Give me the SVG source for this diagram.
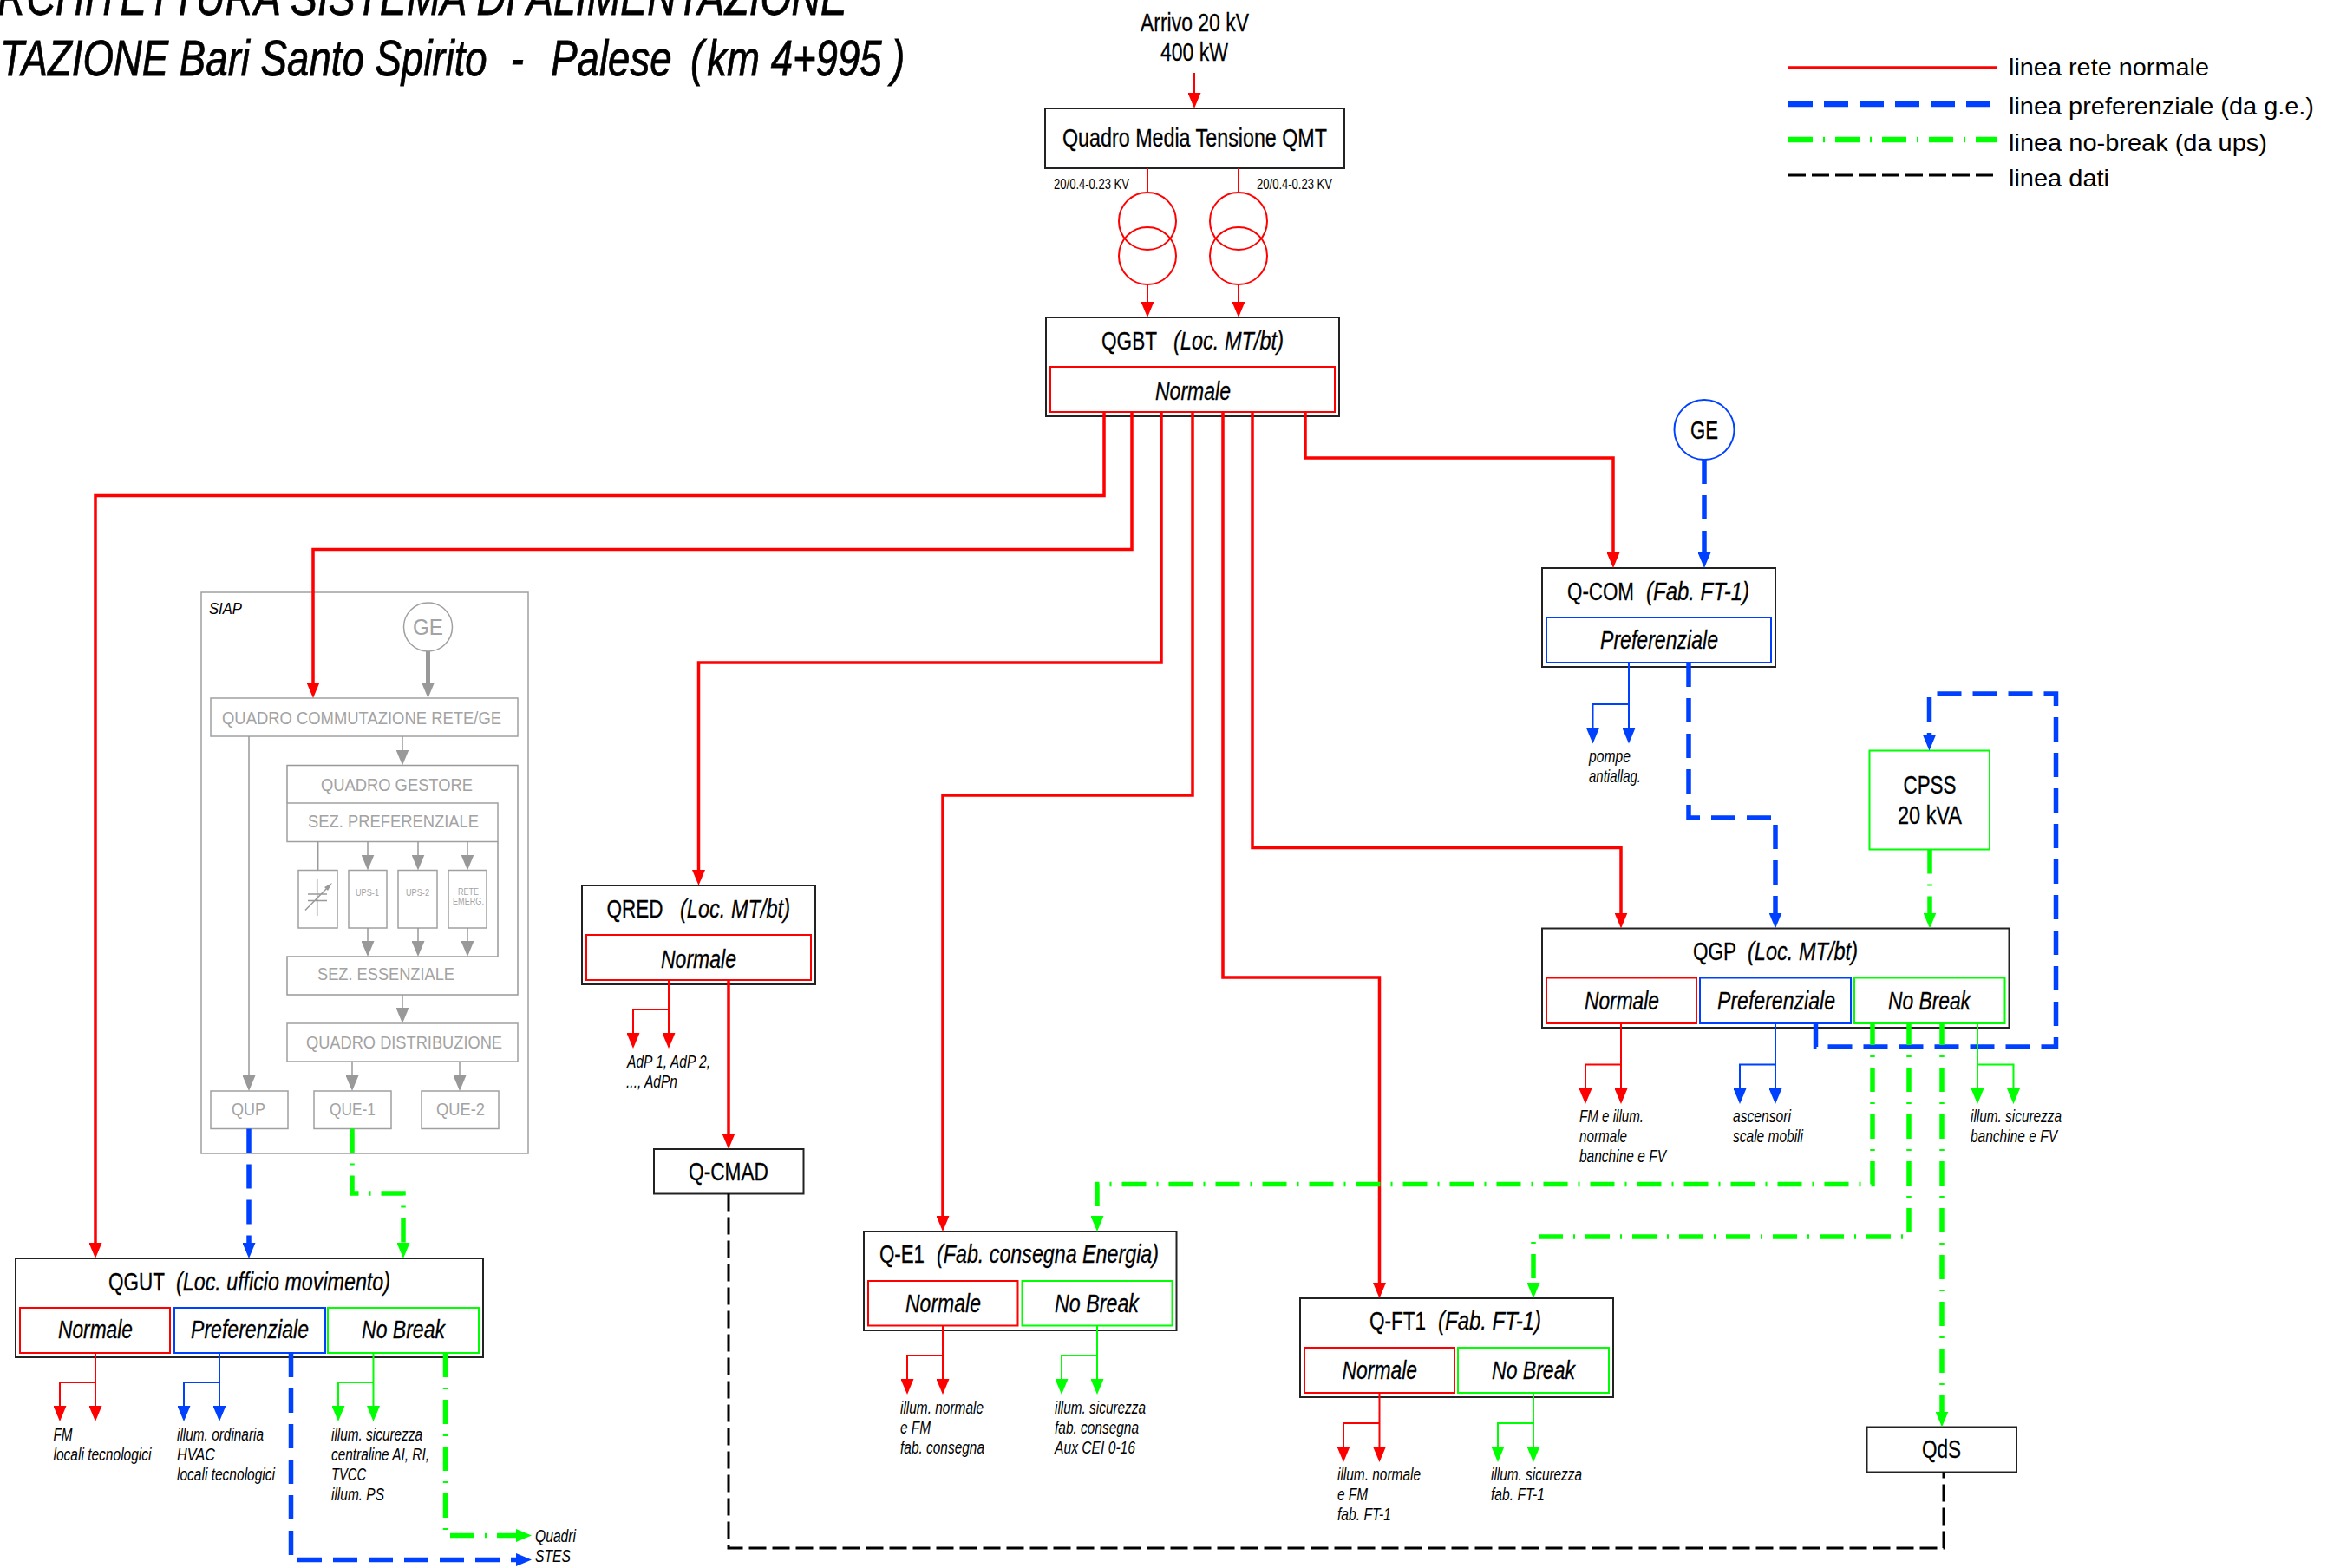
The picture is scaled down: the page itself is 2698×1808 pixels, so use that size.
<svg xmlns="http://www.w3.org/2000/svg" width="2698" height="1808" viewBox="0 0 2698 1808">
<style>
text{font-family:"Liberation Sans",Arial,sans-serif;fill:#000;white-space:pre}
.i{font-style:italic}
.h{font-size:30px;stroke:#000;stroke-width:.3}
.n{font-size:20px;font-style:italic}
.leg{font-size:28px}
.tt{font-size:57px;font-style:italic;stroke:#000;stroke-width:.8}
.g{fill:#a3a3a3;font-size:20.5px}
.s{font-size:11px}
.box{fill:#fff;stroke:#222;stroke-width:2}
.sr{fill:#fff;stroke:#f00;stroke-width:2}
.sb{fill:#fff;stroke:#0040ff;stroke-width:2}
.sg{fill:#fff;stroke:#0f0;stroke-width:2}
.gb{fill:#fff;stroke:#a0a0a0;stroke-width:1.5}
.gl{fill:none;stroke:#999;stroke-width:1.5}
path{fill:none}
.r{stroke:#f00;stroke-width:3.5}
.r1{stroke:#f00;stroke-width:2}
.b1{stroke:#0040ff;stroke-width:2}
.g1{stroke:#0f0;stroke-width:2}
.bd{stroke:#0040ff;stroke-width:5.5;stroke-dasharray:28 13}
.gd{stroke:#0f0;stroke-width:5.5;stroke-dasharray:28 12 2 12}
.kd{stroke:#000;stroke-width:3;stroke-dasharray:20 7}
.mr{marker-end:url(#ar)}
.mb{marker-end:url(#ab)}
.mg{marker-end:url(#ag)}
.my{marker-end:url(#ay)}
</style>
<defs>
<marker id="ar" markerUnits="userSpaceOnUse" markerWidth="18" markerHeight="15" viewBox="0 0 18 15" refX="7" refY="7.5" orient="auto"><polygon points="0,0 18,7.5 0,15" fill="#f00"/></marker>
<marker id="ab" markerUnits="userSpaceOnUse" markerWidth="18" markerHeight="15" viewBox="0 0 18 15" refX="7" refY="7.5" orient="auto"><polygon points="0,0 18,7.5 0,15" fill="#0040ff"/></marker>
<marker id="ag" markerUnits="userSpaceOnUse" markerWidth="18" markerHeight="15" viewBox="0 0 18 15" refX="7" refY="7.5" orient="auto"><polygon points="0,0 18,7.5 0,15" fill="#0f0"/></marker>
<marker id="ay" markerUnits="userSpaceOnUse" markerWidth="18" markerHeight="15" viewBox="0 0 18 15" refX="7" refY="7.5" orient="auto"><polygon points="0,0 18,7.5 0,15" fill="#999"/></marker>
</defs>

<g id="title">
<text class="tt" x="-3" y="17" textLength="980" lengthAdjust="spacingAndGlyphs">RCHITETTURA SISTEMA DI ALIMENTAZIONE</text>
<text class="tt" transform="translate(0,87) scale(.8,1)"><tspan x="0">TAZIONE Bari Santo Spirito </tspan><tspan x="736">- </tspan><tspan x="794">Palese </tspan><tspan x="995">( </tspan><tspan x="1019">km 4+995 </tspan><tspan x="1285">)</tspan></text>
</g>

<g id="legend">
<path class="r" d="M2062 78H2302"/>
<path class="bd" style="stroke-width:6.5" d="M2062 120H2302"/>
<path class="gd" style="stroke-width:6.5" d="M2062 161H2302"/>
<path class="kd" d="M2062 202H2302"/>
<text class="leg" x="2316" y="86.5" textLength="231" lengthAdjust="spacingAndGlyphs">linea rete normale</text>
<text class="leg" x="2316" y="132" textLength="352" lengthAdjust="spacingAndGlyphs">linea preferenziale (da g.e.)</text>
<text class="leg" x="2316" y="174" textLength="298" lengthAdjust="spacingAndGlyphs">linea no-break (da ups)</text>
<text class="leg" x="2316" y="215" textLength="116" lengthAdjust="spacingAndGlyphs">linea dati</text>
</g>

<g id="arrivo">
<text class="h" x="1315" y="36" textLength="125" lengthAdjust="spacingAndGlyphs">Arrivo 20 kV</text>
<text class="h" x="1338" y="70" textLength="78" lengthAdjust="spacingAndGlyphs">400 kW</text>
</g>

<g id="QMT">
<rect class="box" x="1205" y="125" width="345" height="69"/>
<text class="h" x="1225" y="169" textLength="305" lengthAdjust="spacingAndGlyphs">Quadro Media Tensione QMT</text>
</g>

<g id="trasformatori" fill="none" stroke="#f00" stroke-width="2">
<circle cx="1323" cy="255" r="33"/><circle cx="1323" cy="295" r="33"/>
<circle cx="1428" cy="255" r="33"/><circle cx="1428" cy="295" r="33"/>
<text font-size="16" x="1215" y="218" textLength="87" lengthAdjust="spacingAndGlyphs" stroke="none">20/0.4-0.23 KV</text>
<text font-size="16" x="1449" y="218" textLength="87" lengthAdjust="spacingAndGlyphs" stroke="none">20/0.4-0.23 KV</text>
</g>

<g id="QGBT">
<rect class="box" x="1206" y="366" width="338" height="114"/>
<rect class="sr" x="1211" y="423" width="328" height="52"/>
<text class="h" x="1270" y="403" textLength="64" lengthAdjust="spacingAndGlyphs">QGBT</text>
<text class="h i" x="1353" y="403" textLength="127" lengthAdjust="spacingAndGlyphs">(Loc. MT/bt)</text>
<text class="h i" x="1332" y="461" textLength="87" lengthAdjust="spacingAndGlyphs">Normale</text>
</g>

<g id="GE-blu">
<circle cx="1965" cy="495.5" r="34.5" fill="#fff" stroke="#0040ff" stroke-width="2"/>
<text class="h" x="1949" y="506" textLength="32" lengthAdjust="spacingAndGlyphs">GE</text>
</g>

<g id="Q-COM">
<rect class="box" x="1778" y="655" width="269" height="114"/>
<rect class="sb" x="1783" y="712" width="259" height="52"/>
<text class="h" x="1807" y="692" textLength="77" lengthAdjust="spacingAndGlyphs">Q-COM</text>
<text class="h i" x="1898" y="692" textLength="119" lengthAdjust="spacingAndGlyphs">(Fab. FT-1)</text>
<text class="h i" x="1845" y="747.5" textLength="136" lengthAdjust="spacingAndGlyphs">Preferenziale</text>
</g>

<g id="CPSS">
<rect class="sg" x="2155.5" y="865.5" width="138.5" height="114"/>
<text class="h" x="2194.5" y="915" textLength="61" lengthAdjust="spacingAndGlyphs">CPSS</text>
<text class="h" x="2188" y="950" textLength="74" lengthAdjust="spacingAndGlyphs">20 kVA</text>
</g>

<g id="QGP">
<rect class="box" x="1778" y="1070.5" width="538.5" height="114.5"/>
<rect class="sr" x="1783" y="1127.5" width="173" height="52.5"/>
<rect class="sb" x="1960" y="1127.5" width="174" height="52.5"/>
<rect class="sg" x="2138" y="1127.5" width="173.5" height="52.5"/>
<text class="h" x="1952" y="1107" textLength="50" lengthAdjust="spacingAndGlyphs">QGP</text>
<text class="h i" x="2015" y="1107" textLength="127" lengthAdjust="spacingAndGlyphs">(Loc. MT/bt)</text>
<text class="h i" x="1827" y="1164" textLength="86" lengthAdjust="spacingAndGlyphs">Normale</text>
<text class="h i" x="1980" y="1164" textLength="136" lengthAdjust="spacingAndGlyphs">Preferenziale</text>
<text class="h i" x="2177" y="1164" textLength="95" lengthAdjust="spacingAndGlyphs">No Break</text>
</g>

<g id="QRED">
<rect class="box" x="671" y="1021" width="269" height="114"/>
<rect class="sr" x="676" y="1078" width="259" height="52"/>
<text class="h" x="699.5" y="1057.5" textLength="65" lengthAdjust="spacingAndGlyphs">QRED</text>
<text class="h i" x="784" y="1057.5" textLength="127" lengthAdjust="spacingAndGlyphs">(Loc. MT/bt)</text>
<text class="h i" x="762" y="1116" textLength="87" lengthAdjust="spacingAndGlyphs">Normale</text>
</g>

<g id="Q-CMAD">
<rect class="box" x="754" y="1325" width="172.5" height="51.5"/>
<text class="h" x="794" y="1361" textLength="92" lengthAdjust="spacingAndGlyphs">Q-CMAD</text>
</g>

<g id="Q-E1">
<rect class="box" x="996" y="1420" width="360.5" height="114"/>
<rect class="sr" x="1001" y="1477" width="172.5" height="51.5"/>
<rect class="sg" x="1178.5" y="1477" width="173" height="51.5"/>
<text class="h" x="1014" y="1455.5" textLength="52" lengthAdjust="spacingAndGlyphs">Q-E1</text>
<text class="h i" x="1080" y="1455.5" textLength="256" lengthAdjust="spacingAndGlyphs">(Fab. consegna Energia)</text>
<text class="h i" x="1044" y="1513" textLength="87" lengthAdjust="spacingAndGlyphs">Normale</text>
<text class="h i" x="1216" y="1513" textLength="97" lengthAdjust="spacingAndGlyphs">No Break</text>
</g>

<g id="Q-FT1">
<rect class="box" x="1499" y="1497" width="361" height="114"/>
<rect class="sr" x="1504" y="1554" width="173" height="52"/>
<rect class="sg" x="1681" y="1554" width="174" height="52"/>
<text class="h" x="1579" y="1533" textLength="65" lengthAdjust="spacingAndGlyphs">Q-FT1</text>
<text class="h i" x="1658" y="1533" textLength="119" lengthAdjust="spacingAndGlyphs">(Fab. FT-1)</text>
<text class="h i" x="1547.5" y="1590" textLength="86.5" lengthAdjust="spacingAndGlyphs">Normale</text>
<text class="h i" x="1720" y="1590" textLength="96" lengthAdjust="spacingAndGlyphs">No Break</text>
</g>

<g id="QdS">
<rect class="box" x="2152.5" y="1645.5" width="172.5" height="52"/>
<text class="h" x="2216" y="1681" textLength="45" lengthAdjust="spacingAndGlyphs">QdS</text>
</g>

<g id="QGUT">
<rect class="box" x="18" y="1451" width="539" height="114"/>
<rect class="sr" x="23" y="1508" width="173" height="52"/>
<rect class="sb" x="201" y="1508" width="174" height="52"/>
<rect class="sg" x="378" y="1508" width="174" height="52"/>
<text class="h" x="125" y="1488" textLength="65" lengthAdjust="spacingAndGlyphs">QGUT</text>
<text class="h i" x="203" y="1488" textLength="247" lengthAdjust="spacingAndGlyphs">(Loc. ufficio movimento)</text>
<text class="h i" x="67" y="1543" textLength="86" lengthAdjust="spacingAndGlyphs">Normale</text>
<text class="h i" x="220" y="1543" textLength="136" lengthAdjust="spacingAndGlyphs">Preferenziale</text>
<text class="h i" x="417" y="1543" textLength="96" lengthAdjust="spacingAndGlyphs">No Break</text>
</g>

<g id="SIAP">
<rect class="gb" x="232" y="683" width="377" height="647" style="fill:none"/>
<text class="i" font-size="19" x="241" y="708" textLength="38" lengthAdjust="spacingAndGlyphs">SIAP</text>
<ellipse class="gb" cx="493.5" cy="723" rx="28" ry="28"/>
<text class="g" style="font-size:26px" x="476" y="732" textLength="35" lengthAdjust="spacingAndGlyphs">GE</text>
<rect class="gb" x="243" y="805" width="354" height="44"/>
<text class="g" x="256" y="835" textLength="322" lengthAdjust="spacingAndGlyphs">QUADRO COMMUTAZIONE RETE/GE</text>
<path class="gl" d="M331 926V882.5H597V1147H331V1103H574V970.5"/>
<rect class="gb" x="331" y="926" width="243" height="44.5"/>
<text class="g" x="370" y="911.5" textLength="175" lengthAdjust="spacingAndGlyphs">QUADRO GESTORE</text>
<text class="g" x="355" y="953.5" textLength="197" lengthAdjust="spacingAndGlyphs">SEZ. PREFERENZIALE</text>
<text class="g" x="366" y="1130" textLength="158" lengthAdjust="spacingAndGlyphs">SEZ. ESSENZIALE</text>
<rect class="gb" x="344" y="1003.5" width="45" height="66.5"/>
<rect class="gb" x="402" y="1003.5" width="44" height="66.5"/>
<rect class="gb" x="459" y="1003.5" width="45" height="66.5"/>
<rect class="gb" x="517" y="1003.5" width="44" height="66.5"/>
<path class="gl" d="M365.7 1013.5V1056M355 1031H377M355 1038.5H377M352 1049.5L380 1021"/>
<polygon points="383,1018 374,1023 378,1027" fill="#999"/>
<text class="g s" x="410" y="1032.5" textLength="27" lengthAdjust="spacingAndGlyphs">UPS-1</text>
<text class="g s" x="468" y="1032.5" textLength="27" lengthAdjust="spacingAndGlyphs">UPS-2</text>
<text class="g s" x="528" y="1032" textLength="24" lengthAdjust="spacingAndGlyphs">RETE</text>
<text class="g s" x="522" y="1043" textLength="36" lengthAdjust="spacingAndGlyphs">EMERG.</text>
<rect class="gb" x="331" y="1180" width="266" height="44"/>
<text class="g" x="353" y="1209" textLength="226" lengthAdjust="spacingAndGlyphs">QUADRO DISTRIBUZIONE</text>
<rect class="gb" x="243" y="1258" width="89" height="43.5"/>
<text class="g" x="267" y="1286" textLength="39" lengthAdjust="spacingAndGlyphs">QUP</text>
<rect class="gb" x="362" y="1258" width="89" height="43.5"/>
<text class="g" x="380" y="1286" textLength="53" lengthAdjust="spacingAndGlyphs">QUE-1</text>
<rect class="gb" x="486" y="1258" width="89" height="43.5"/>
<text class="g" x="503" y="1286" textLength="56" lengthAdjust="spacingAndGlyphs">QUE-2</text>
</g>

<g id="connectors">
<path class="my" style="stroke:#999;stroke-width:5" d="M493.5 751V794"/>
<path class="gl" d="M366.7 970.5V1003.5"/>
<path class="gl my" d="M287 849V1247"/>
<path class="gl my" d="M464 849V871.5"/><path class="gl my" d="M424 970.5V992.5"/><path class="gl my" d="M482 970.5V992.5"/><path class="gl my" d="M539 970.5V992.5"/><path class="gl my" d="M424 1070V1092"/><path class="gl my" d="M482 1070V1092"/><path class="gl my" d="M539 1070V1092"/><path class="gl my" d="M464 1147V1169"/><path class="gl my" d="M406 1224V1247"/><path class="gl my" d="M530 1224V1247"/>

<path class="kd" d="M840 1376.5V1785H2241V1697.5"/>

<path class="r1 mr" d="M1377 84V114"/>
<path class="r1" d="M1323 194V222M1428 194V222"/>
<path class="r1 mr" d="M1323 328V355"/><path class="r1 mr" d="M1428 328V355"/>
<path class="r mr" d="M1273 475V571.5H110V1440"/>
<path class="r mr" d="M1305 475V633.5H361V794"/>
<path class="r mr" d="M1339 475V764H805.5V1010"/>
<path class="r mr" d="M1375 475V917H1087V1409"/>
<path class="r mr" d="M1410 475V1127H1590.5V1486"/>
<path class="r mr" d="M1444 475V977.5H1869V1059.5"/>
<path class="r mr" d="M1505 475V528H1860V644"/>
<path class="r mr" d="M840 1130V1314"/>

<path class="bd mb" d="M1965 530V644"/>
<path class="bd mb" d="M1947 764V943H2047V1059.5"/>
<path class="bd mb" d="M2093.5 1180V1207H2370.5V800H2224.5V854.5"/>
<path class="bd mb" d="M287 1301.5V1440"/>
<path class="bd mb" d="M335.5 1560V1798.5H602"/>

<path class="gd mg" d="M406 1301.5V1376H465V1440"/>
<path class="gd mg" d="M2225 979.5V1059.5"/>
<path class="gd mg" stroke-dashoffset="3" d="M2159 1180V1365.5H1265V1409"/>
<path class="gd mg" stroke-dashoffset="3" d="M2201 1180V1426H1768V1486"/>
<path class="gd mg" stroke-dashoffset="3" d="M2239 1180V1634.5"/>
<path class="gd mg" d="M513.5 1560V1770.5H602"/>

<path class="r1 mr" d="M110 1560V1628"/><path class="r1 mr" d="M110 1594H69V1628"/>
<path class="b1 mb" d="M253 1560V1628"/><path class="b1 mb" d="M253 1594H212V1628"/>
<path class="g1 mg" d="M430.5 1560V1628"/><path class="g1 mg" d="M430.5 1594H390V1628"/>
<path class="r1 mr" d="M771 1130V1198"/><path class="r1 mr" d="M771 1164H730V1198"/>
<path class="r1 mr" d="M1087 1528.5V1597"/><path class="r1 mr" d="M1087 1563H1046V1597"/>
<path class="g1 mg" d="M1265 1528.5V1597"/><path class="g1 mg" d="M1265 1563H1224V1597"/>
<path class="r1 mr" d="M1590.5 1606V1675"/><path class="r1 mr" d="M1590.5 1641H1549V1675"/>
<path class="g1 mg" d="M1768 1606V1675"/><path class="g1 mg" d="M1768 1641H1727V1675"/>
<path class="b1 mb" d="M1878 764V846.5"/><path class="b1 mb" d="M1878 812H1836.5V846.5"/>
<path class="r1 mr" d="M1869 1180V1262"/><path class="r1 mr" d="M1869 1227.5H1828V1262"/>
<path class="b1 mb" d="M2047 1180V1262"/><path class="b1 mb" d="M2047 1227.5H2006V1262"/>
<path class="g1 mg" d="M2280 1180V1262"/><path class="g1 mg" d="M2280 1227.5H2321.5V1262"/>
</g>

<g id="etichette">
<text class="n" x="61.5" y="1661" textLength="22" lengthAdjust="spacingAndGlyphs">FM</text>
<text class="n" x="61.5" y="1684" textLength="113" lengthAdjust="spacingAndGlyphs">locali tecnologici</text>
<text class="n" x="204" y="1661" textLength="100" lengthAdjust="spacingAndGlyphs">illum. ordinaria</text>
<text class="n" x="204" y="1684" textLength="44" lengthAdjust="spacingAndGlyphs">HVAC</text>
<text class="n" x="204" y="1707" textLength="113" lengthAdjust="spacingAndGlyphs">locali tecnologici</text>
<text class="n" x="382" y="1661" textLength="105" lengthAdjust="spacingAndGlyphs">illum. sicurezza</text>
<text class="n" x="382" y="1684" textLength="113" lengthAdjust="spacingAndGlyphs">centraline AI, RI,</text>
<text class="n" x="382" y="1707" textLength="40" lengthAdjust="spacingAndGlyphs">TVCC</text>
<text class="n" x="382" y="1730" textLength="61" lengthAdjust="spacingAndGlyphs">illum. PS</text>
<text class="n" x="617" y="1778" textLength="47" lengthAdjust="spacingAndGlyphs">Quadri</text>
<text class="n" x="617" y="1801" textLength="41" lengthAdjust="spacingAndGlyphs">STES</text>
<text class="n" x="723" y="1231" textLength="96" lengthAdjust="spacingAndGlyphs">AdP 1, AdP 2,</text>
<text class="n" x="722" y="1254" textLength="59" lengthAdjust="spacingAndGlyphs">..., AdPn</text>
<text class="n" x="1038" y="1630" textLength="96" lengthAdjust="spacingAndGlyphs">illum. normale</text>
<text class="n" x="1038" y="1653" textLength="35" lengthAdjust="spacingAndGlyphs">e FM</text>
<text class="n" x="1038" y="1676" textLength="97" lengthAdjust="spacingAndGlyphs">fab. consegna</text>
<text class="n" x="1216" y="1630" textLength="105" lengthAdjust="spacingAndGlyphs">illum. sicurezza</text>
<text class="n" x="1216" y="1653" textLength="97" lengthAdjust="spacingAndGlyphs">fab. consegna</text>
<text class="n" x="1216" y="1676" textLength="93" lengthAdjust="spacingAndGlyphs">Aux CEI 0-16</text>
<text class="n" x="1542" y="1707" textLength="96" lengthAdjust="spacingAndGlyphs">illum. normale</text>
<text class="n" x="1542" y="1730" textLength="35" lengthAdjust="spacingAndGlyphs">e FM</text>
<text class="n" x="1542" y="1753" textLength="62" lengthAdjust="spacingAndGlyphs">fab. FT-1</text>
<text class="n" x="1719" y="1707" textLength="105" lengthAdjust="spacingAndGlyphs">illum. sicurezza</text>
<text class="n" x="1719" y="1730" textLength="62" lengthAdjust="spacingAndGlyphs">fab. FT-1</text>
<text class="n" x="1832" y="879" textLength="48" lengthAdjust="spacingAndGlyphs">pompe</text>
<text class="n" x="1832" y="902" textLength="60" lengthAdjust="spacingAndGlyphs">antiallag.</text>
<text class="n" x="1821" y="1294" textLength="74" lengthAdjust="spacingAndGlyphs">FM e illum.</text>
<text class="n" x="1821" y="1317" textLength="55" lengthAdjust="spacingAndGlyphs">normale</text>
<text class="n" x="1821" y="1340" textLength="100" lengthAdjust="spacingAndGlyphs">banchine e FV</text>
<text class="n" x="1998" y="1294" textLength="67" lengthAdjust="spacingAndGlyphs">ascensori</text>
<text class="n" x="1998" y="1317" textLength="81" lengthAdjust="spacingAndGlyphs">scale mobili</text>
<text class="n" x="2272" y="1294" textLength="105" lengthAdjust="spacingAndGlyphs">illum. sicurezza</text>
<text class="n" x="2272" y="1317" textLength="100" lengthAdjust="spacingAndGlyphs">banchine e FV</text>
</g>
</svg>
